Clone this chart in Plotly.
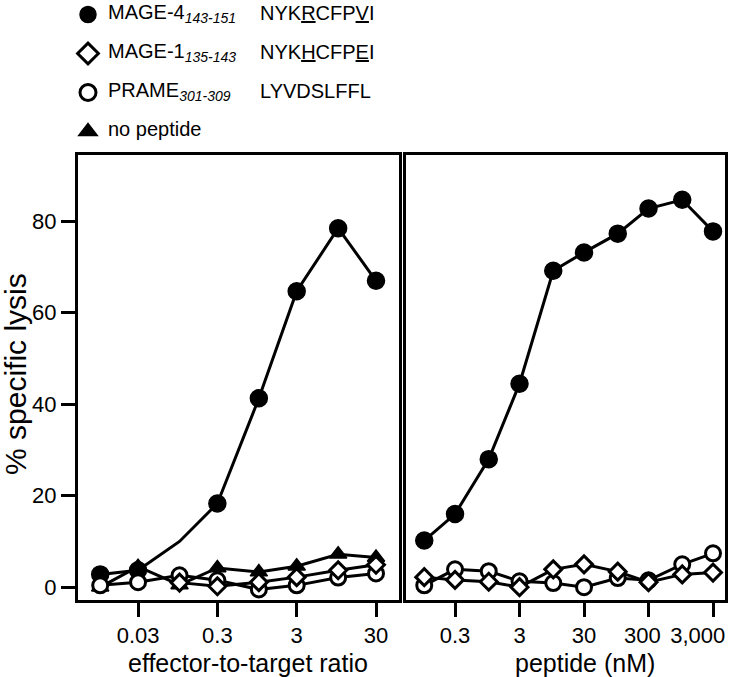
import plotly.graph_objects as go

FONT = "Liberation Sans, Arial, Helvetica, sans-serif"
NB = "\u00a0"

# ---- left panel: effector-to-target ratio ----
et_ratio = [0.01, 0.03, 0.1, 0.3, 1, 3, 10, 30]
et_mage4 = [2.8, 3.7, 10.0, 18.3, 41.3, 64.7, 78.5, 67.0]
et_mage4_shown = [1, 1, 0, 1, 1, 1, 1, 1]          # point at 0.1 drawn without a symbol
et_mage1_ratio = [0.1, 0.3, 1, 3, 10, 30]
et_mage1 = [1.0, 0.2, 1.1, 2.2, 3.7, 4.9]
et_prame = [0.4, 1.1, 2.6, 1.5, -0.5, 0.4, 2.1, 3.0]
et_nopep = [0.0, 4.5, 0.5, 4.2, 3.3, 4.6, 7.2, 6.5]

# ---- right panel: peptide titration ----
peptide_nM = [0.1, 0.3, 1, 3, 10, 30, 100, 300, 1000, 3000]
pep_mage4 = [10.2, 16.0, 28.0, 44.5, 69.2, 73.2, 77.3, 82.8, 84.7, 77.8]
pep_mage1 = [2.2, 1.6, 1.2, 0.0, 3.9, 5.0, 3.4, 1.1, 2.8, 3.2]
pep_prame = [0.4, 3.9, 3.5, 1.3, 0.9, 0.0, 2.0, 1.5, 5.0, 7.4]

left_ticks = [0.03, 0.3, 3, 30]
left_ticktext = ["0.03", "0.3", "3", "30"]
right_ticks = [0.3, 3, 30, 300, 3000]
right_ticktext = ["0.3", "3", "30", "300", "3,000"]
right_tick_pad = [0, 0, 0, 2, 5]      # labels nudged left as in the original
y_ticks = [0, 20, 40, 60, 80]

legend_names = ["MAGE-4<sub><i>143-151</i></sub>", "MAGE-1<sub><i>135-143</i></sub>",
                "PRAME<sub><i>301-309</i></sub>", "no peptide"]
legend_seqs = ["NYK<u>R</u>CFP<u>V</u>I", "NYK<u>H</u>CFP<u>E</u>I", "LYVDSLFFL", ""]

x_title_left = "effector-to-target ratio"
x_title_right = "peptide (nM)"
y_title = "% specific lysis"

LW = 3
styles = {
    "mage4": dict(symbol="circle", size=17, color="black", opacity=1,
                  line=dict(color="black", width=1.5)),
    "mage1": dict(symbol="diamond", size=13, color="white", opacity=1,
                  line=dict(color="black", width=LW)),
    "prame": dict(symbol="circle", size=15, color="white", opacity=1,
                  line=dict(color="black", width=LW)),
    "nopep": dict(symbol="triangle-up", size=15, color="black", opacity=1,
                  line=dict(color="black", width=1.5)),
}

fig = go.Figure()

def add(x, y, key, xa, ya, sizes=None):
    m = dict(styles[key])
    if sizes is not None:
        m["size"] = sizes
    fig.add_trace(go.Scatter(x=x, y=y, mode="lines+markers", xaxis=xa, yaxis=ya,
                             line=dict(color="black", width=LW), marker=m,
                             showlegend=False, hoverinfo="x+y"))

# left panel (draw order: triangles, filled circles, open circles, diamonds)
add(et_ratio, et_nopep, "nopep", "x", "y")
add(et_ratio, et_mage4, "mage4", "x", "y",
    sizes=[styles["mage4"]["size"] if s else 0 for s in et_mage4_shown])
add(et_ratio, et_prame, "prame", "x", "y")
add(et_mage1_ratio, et_mage1, "mage1", "x", "y")

# right panel
add(peptide_nM, pep_mage4, "mage4", "x2", "y2")
add(peptide_nM, pep_prame, "prame", "x2", "y2")
add(peptide_nM, pep_mage1, "mage1", "x2", "y2")

# legend-only entries
for i, (name, key) in enumerate(zip(legend_names, ["mage4", "mage1", "prame", "nopep"])):
    m = dict(styles[key])
    m["size"] = 16
    fig.add_trace(go.Scatter(x=[None], y=[None], mode="markers",
                             name=f"<span style='font-size:20px'>{name}</span>", marker=m,
                             legendgroup=f"g{i}", legendrank=i + 1, showlegend=True))

axis_common = dict(showline=True, linecolor="black", linewidth=LW, mirror=True,
                   ticks="outside", ticklen=14, tickwidth=LW, tickcolor="black",
                   showgrid=False, zeroline=False, ticklabeloverflow="allow",
                   tickfont=dict(family=FONT, size=22, color="black"))

# plot area in pixels: x 78..725, y 155..600
PL, PR, PT, PB = 78, 725, 155, 600
def px_x(px):
    return (px - PL) / (PR - PL)
def px_y(py):
    return (PB - py) / (PB - PT)

fig.update_layout(
    width=730, height=677,
    margin=dict(l=PL, r=730 - PR, t=PT, b=677 - PB, autoexpand=False),
    paper_bgcolor="white", plot_bgcolor="white",
    font=dict(family=FONT, size=20, color="black"),
    xaxis=dict(type="log", domain=[0, px_x(399)], range=[-2.28, 1.767], tickangle=0,
               tickvals=left_ticks, ticktext=left_ticktext, **axis_common),
    xaxis2=dict(type="log", domain=[px_x(406), 1], range=[-1.283, 3.663], anchor="y2",
                tickangle=0, tickvals=right_ticks,
                ticktext=[t + NB * p for t, p in zip(right_ticktext, right_tick_pad)],
                **axis_common),
    yaxis=dict(range=[-2.8, 94.5], tickvals=y_ticks, **axis_common),
    yaxis2=dict(range=[-2.8, 94.5], anchor="x2", showticklabels=False,
                showline=True, linecolor="black", linewidth=LW, mirror=True,
                ticks="", showgrid=False, zeroline=False),
    legend=dict(xref="container", yref="container", x=68 / 730, y=1,
                xanchor="left", yanchor="top", traceorder="grouped",
                tracegroupgap=20, bgcolor="rgba(0,0,0,0)",
                font=dict(family=FONT, size=12, color="black")),
    showlegend=True,
)

# axis titles
fig.add_annotation(text=x_title_left, xref="paper", yref="paper", x=px_x(248), y=px_y(663),
                   xanchor="center", yanchor="middle", showarrow=False,
                   font=dict(family=FONT, size=25, color="black"))
fig.add_annotation(text=x_title_right, xref="paper", yref="paper", x=px_x(585), y=px_y(663),
                   xanchor="center", yanchor="middle", showarrow=False,
                   font=dict(family=FONT, size=25, color="black"))
fig.add_annotation(text=y_title, xref="paper", yref="paper", x=px_x(15), y=px_y(374),
                   xanchor="center", yanchor="middle", showarrow=False, textangle=-90,
                   font=dict(family=FONT, size=30, color="black"))

# peptide sequences next to the legend entries
row_px = [13, 52, 91, 130]
for seq, py in zip(legend_seqs, row_px):
    if not seq:
        continue
    fig.add_annotation(text=seq, xref="paper", yref="paper", x=px_x(258), y=px_y(py),
                       xanchor="left", yanchor="middle", showarrow=False,
                       font=dict(family=FONT, size=20, color="black"))

fig.write_html("out.html", config={"displayModeBar": False},
               post_script="document.body.style.margin='0px';")
